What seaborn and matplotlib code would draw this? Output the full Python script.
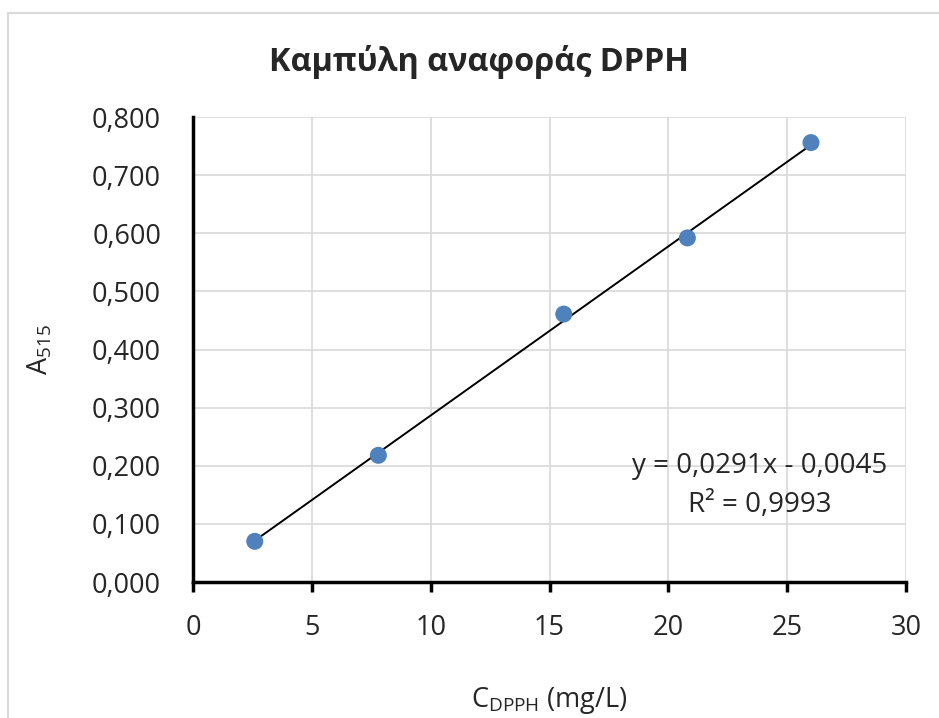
import matplotlib
matplotlib.use("Agg")
import matplotlib.pyplot as plt
import matplotlib.patches as mpatches
import numpy as np
import pandas as pd
import seaborn as sns

# DPPH calibration standards
conc_mg_l = [2.6, 7.8, 15.6, 20.8, 26.0]
absorbance = [0.070, 0.218, 0.461, 0.592, 0.756]

# linear trendline coefficients
slope = 0.0291
intercept = -0.0045
r_squared = 0.9993

x_ticks = [0, 5, 10, 15, 20, 25, 30]
y_ticks = [0.0, 0.1, 0.2, 0.3, 0.4, 0.5, 0.6, 0.7, 0.8]

df = pd.DataFrame({"C": conc_mg_l, "A": absorbance})

sns.set_theme(style="white")
plt.rcParams["font.family"] = ["Open Sans", "DejaVu Sans"]

fig = plt.figure(figsize=(9.39, 7.18), dpi=100)
ax = fig.add_axes([0.2055, 0.1894, 0.9649 - 0.2055, 0.837 - 0.1894])

# chart area frame
fig.patches.append(mpatches.Rectangle((8 / 939, -0.1), 1.2, 1 - 13 / 718 + 0.1,
                                      transform=fig.transFigure, fill=False,
                                      edgecolor="#d9d9d9", linewidth=1.5))

ax.set_xlim(0, 30)
ax.set_ylim(0, 0.8)
ax.set_xticks(x_ticks)
ax.set_yticks(y_ticks)
ax.grid(True, color="#d9d9d9", linewidth=1.2)
ax.set_axisbelow(True)

# trendline over the measured range
xs = np.array([min(conc_mg_l), max(conc_mg_l)])
ax.plot(xs, slope * xs + intercept, color="black", linewidth=1.4, zorder=2)

sns.scatterplot(data=df, x="C", y="A", ax=ax, s=150, color="#4f81bd",
                edgecolor="none", zorder=3)

for side in ["top", "right"]:
    ax.spines[side].set_visible(False)
for side in ["left", "bottom"]:
    ax.spines[side].set_color("black")
    ax.spines[side].set_linewidth(2.5)

ax.tick_params(axis="x", direction="out", length=7, width=2.5, color="black",
               labelsize=19.5, pad=16, bottom=True)
ax.tick_params(axis="y", length=0, labelsize=19.5, pad=23, left=False)
ax.set_xticklabels([str(t) for t in x_ticks])
ax.set_yticklabels([f"{t:.3f}".replace(".", ",") for t in y_ticks])

ax.set_xlabel(r"C$_{\mathregular{DPPH}}$ (mg/L)", fontsize=19.5, labelpad=31)
ax.set_ylabel(r"A$_{\mathregular{515}}$", fontsize=19.5, labelpad=27)

fig.text(479 / 939, 1 - 62 / 718, "Καμπύλη αναφοράς DPPH", ha="center", va="center",
         fontsize=23.3, fontweight="bold")

eq = f"y = {slope:.4f}x - {abs(intercept):.4f}".replace(".", ",")
r2 = f"R² = {r_squared:.4f}".replace(".", ",")
fig.text(760 / 939, 1 - 466 / 718, eq, ha="center", va="center", fontsize=20)
fig.text(760 / 939, 1 - 505 / 718, r2, ha="center", va="center", fontsize=20)

fig.savefig("out.png", dpi=100, facecolor="white")
